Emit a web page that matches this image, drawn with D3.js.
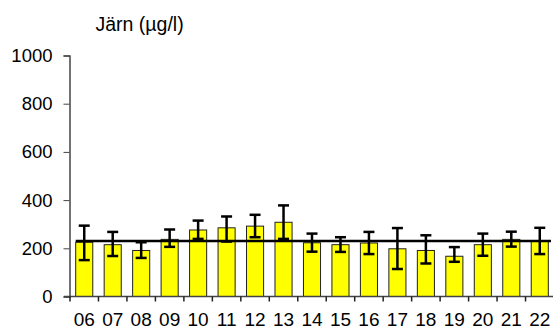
<!DOCTYPE html>
<html>
<head>
<meta charset="utf-8">
<script src="https://cdn.jsdelivr.net/npm/d3@7"></script>
<style>
  body { margin: 0; background: #fff; }
  svg { display: block; font-family: "Liberation Sans", Arial, sans-serif; }
</style>
</head>
<body>
<div class="graphContainer"></div>
<script>
var width = 553;
var height = 329;

var years = ["06","07","08","09","10","11","12","13","14","15","16","17","18","19","20","21","22"];
var means = [225,215,191,237,276,285,292,308,223,215,222,198,191,167,215,237,229];
var errLow = [151,168,160,206,239,228,246,239,186,185,176,114,137,144,169,207,176];
var errHigh = [294,268,225,278,315,332,339,378,261,246,268,284,254,205,261,269,285];
var overallMean = 230;
var yTicks = [0, 200, 400, 600, 800, 1000];

var svg = d3.select(".graphContainer")
  .append("svg")
  .attr("width", width)
  .attr("height", height);

// scales
var xScale = d3.scaleBand().domain(years).range([70, 554]).paddingInner(0.4).paddingOuter(0.2);
var yScale = d3.scaleLinear().domain([0, 1000]).range([296.5, 55.5]);

// title
svg.append("text")
  .attr("x", 95.5)
  .attr("y", 31)
  .style("font-size", "19.5px")
  .text("Järn (µg/l)");

// bars
svg.selectAll("rect.bar")
  .data(years)
  .enter()
  .append("rect")
  .attr("class", "bar")
  .attr("x", function (d) { return xScale(d); })
  .attr("y", function (d, i) { return yScale(means[i]); })
  .attr("width", xScale.bandwidth())
  .attr("height", function (d, i) { return yScale(0) - yScale(means[i]); })
  .style("fill", "#ffff00")
  .style("stroke", "#222")
  .style("stroke-width", 1);

// mean line
svg.append("line")
  .attr("x1", xScale(years[0]))
  .attr("x2", 551)
  .attr("y1", yScale(overallMean))
  .attr("y2", yScale(overallMean))
  .style("stroke", "#000")
  .style("stroke-width", 2.5);

// error bars
var err = svg.append("g").attr("class", "errors");
years.forEach(function (d, i) {
  var cx = xScale(d) + xScale.bandwidth() / 2;
  var g = err.append("g").style("stroke", "#000").style("stroke-width", 2.5);
  g.append("line").attr("x1", cx).attr("x2", cx)
    .attr("y1", yScale(errLow[i])).attr("y2", yScale(errHigh[i]));
  g.append("line").attr("x1", cx - 5.5).attr("x2", cx + 5.5)
    .attr("y1", yScale(errLow[i])).attr("y2", yScale(errLow[i]));
  g.append("line").attr("x1", cx - 5.5).attr("x2", cx + 5.5)
    .attr("y1", yScale(errHigh[i])).attr("y2", yScale(errHigh[i]));
});

// y axis
var yAxis = d3.axisLeft(yScale).tickValues(yTicks).tickFormat(d3.format("d")).tickSize(6).tickPadding(11);
var yAxisGroup = svg.append("g")
  .attr("transform", "translate(69.5,0)")
  .call(yAxis);
yAxisGroup.select(".domain").attr("stroke", "#444").attr("stroke-width", 1.5);
yAxisGroup.selectAll(".tick line").attr("stroke", "#444");
yAxisGroup.selectAll("text")
  .style("font-size", "18.5px")
  .style("font-family", "'Liberation Sans', Arial, sans-serif")
  .attr("fill", "#000");

// x axis
var xAxisGroup = svg.append("g")
  .attr("transform", "translate(0," + yScale(0) + ")");
xAxisGroup.append("line")
  .attr("x1", 64).attr("x2", 553)
  .attr("stroke", "#444").attr("stroke-width", 1.5);
var step = xScale.step();
var boundaries = years.map(function (d) { return xScale(d) - step * 0.2; });
xAxisGroup.selectAll("line.tick")
  .data(boundaries)
  .enter()
  .append("line")
  .attr("class", "tick")
  .attr("x1", function (d) { return d; })
  .attr("x2", function (d) { return d; })
  .attr("y1", 0).attr("y2", 5)
  .attr("stroke", "#222").attr("stroke-width", 1.5);
xAxisGroup.selectAll("text")
  .data(years)
  .enter()
  .append("text")
  .attr("x", function (d) { return xScale(d) + xScale.bandwidth() / 2; })
  .attr("y", 29.5)
  .attr("text-anchor", "middle")
  .style("font-size", "19px")
  .text(function (d) { return d; });
</script>
</body>
</html>
